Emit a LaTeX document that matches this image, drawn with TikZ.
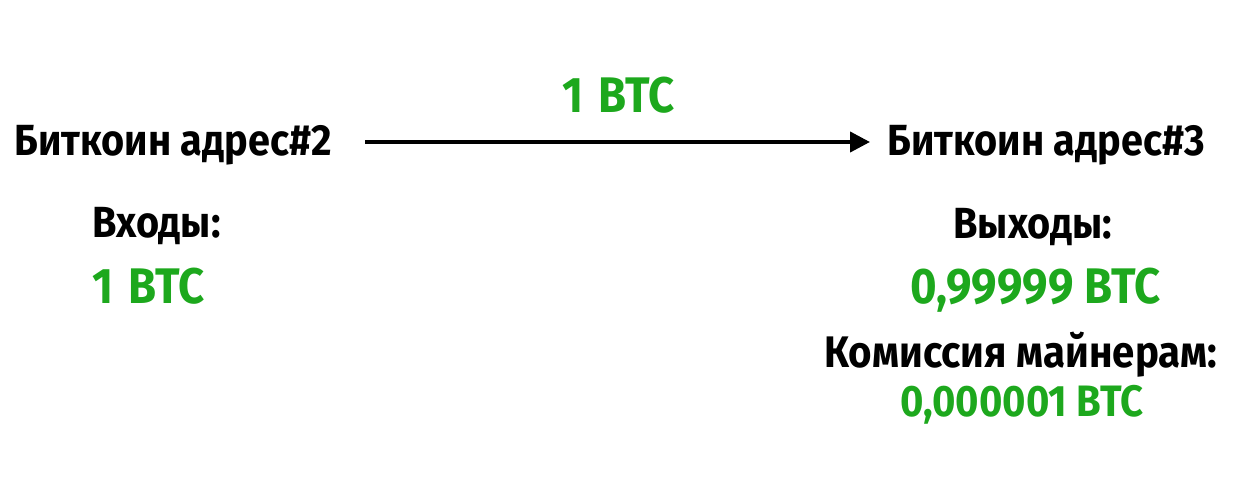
\documentclass[tikz,border=0pt]{standalone}
\usepackage{fontspec}
\setmainfont{Fira Sans}[BoldFont={Fira Sans Bold}, FakeStretch=0.91]
\usetikzlibrary{arrows.meta}
\definecolor{btcgreen}{HTML}{1DA81D}
\begin{document}
\begin{tikzpicture}[x=0.5pt,y=-0.5pt,
  lbl/.style={anchor=base west, inner sep=0pt, font=\bfseries\fontsize{21.8pt}{24pt}\selectfont},
  grn/.style={anchor=base west, inner sep=0pt, text=btcgreen, font=\bfseries\fontsize{25pt}{28pt}\selectfont},
  conn/.style={line width=2pt, -{Triangle[length=10pt,width=10pt]}}]
\useasboundingbox (0,0) rectangle (1240,488);
\node[lbl] (a2) at (14,155) {Биткоин адрес\#2};
\node[lbl] (a3) at (887,155) {Биткоин адрес\#3};
\node[grn] (amt) at (562,112) {1\hspace{0.3em}BTC};
\coordinate (s) at (365,142);
\coordinate (t) at (870,142);
\draw[conn] (s) -- (t);
\node[lbl] (inp) at (92,237) {Входы:};
\node[grn] (in1) at (92,303) {1\hspace{0.3em}BTC};
\node[lbl] (outp) at (953,238) {Выходы:};
\node[grn] (out1) at (910,303) {0,99999 BTC};
\node[lbl, font=\bfseries\fontsize{22.1pt}{25pt}\selectfont] (fee) at (824,367) {Комиссия майнерам:};
\node[grn, font=\bfseries\fontsize{22pt}{25pt}\selectfont] (fee1) at (900,416) {0,000001 BTC};
\end{tikzpicture}
\end{document}
